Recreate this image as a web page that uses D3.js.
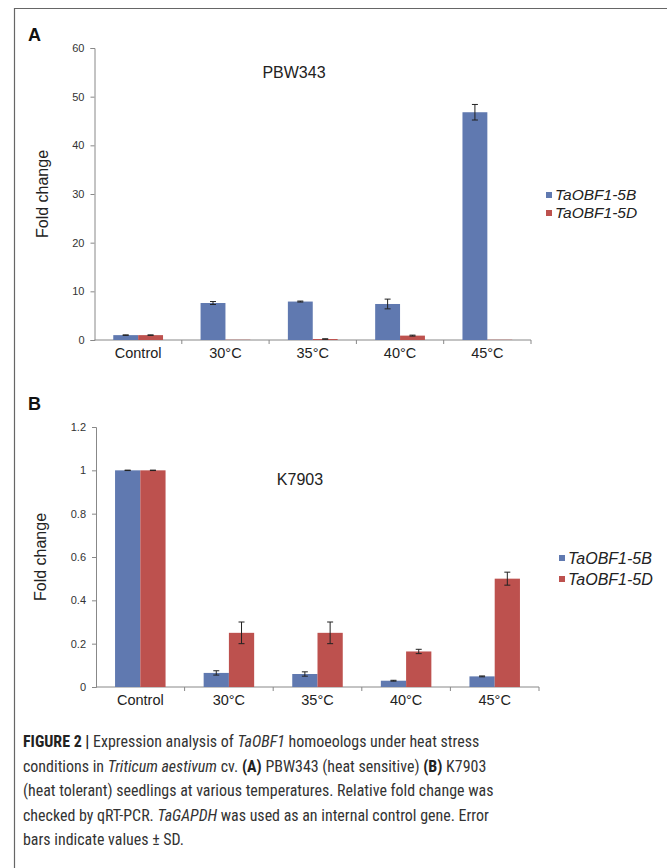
<!DOCTYPE html>
<html lang="en">
<head>
  <meta charset="UTF-8">
  <title>TaOBF1 fold change</title>
  <script src="https://d3js.org/d3.v7.min.js"></script>
  <style>
    body { margin: 0; background: #fff; }
    svg { font-family: "Liberation Sans", Arial, sans-serif; display: block; }
    .tick text { fill: #333; }
    .cap { fill: #333; font-family: "Liberation Sans Narrow", "Roboto Condensed", "Liberation Sans", sans-serif; font-size: 18px; }
  </style>
</head>
<body>
  <svg id="fig" width="667" height="868"></svg>

  <script>
    const categories = ["Control", "30°C", "35°C", "40°C", "45°C"];
    const seriesNames = ["TaOBF1-5B", "TaOBF1-5D"];
    const colors = ["#6079b0", "#bd514e"];

    // panel A - PBW343
    const a5B = [1.0, 7.6, 7.9, 7.4, 46.8];
    const a5BErr = [0.05, 0.3, 0.1, 1.0, 1.6];
    const a5D = [1.0, 0.05, 0.2, 0.9, 0.05];
    const a5DErr = [0.05, 0, 0.05, 0.1, 0];
    const aTicks = [0, 10, 20, 30, 40, 50, 60];

    // panel B - K7903
    const b5B = [1.0, 0.065, 0.06, 0.029, 0.049];
    const b5BErr = [0.001, 0.01, 0.01, 0.002, 0.002];
    const b5D = [1.0, 0.25, 0.25, 0.164, 0.50];
    const b5DErr = [0.001, 0.05, 0.05, 0.01, 0.03];
    const bTicks = [0, 0.2, 0.4, 0.6, 0.8, 1, 1.2];

    const svg = d3.select("#fig");

    // frame
    svg.append("path")
      .attr("d", "M14.5,868 V8.5 H667")
      .attr("fill", "none").attr("stroke", "#666").attr("stroke-width", 1.2);

    function panel(opt) {
      const x = d3.scaleBand().domain(categories)
        .range([opt.x0, opt.x1]).paddingInner(0.43).paddingOuter(0.215);
      const xs = d3.scaleBand().domain(seriesNames).range([0, x.bandwidth()]);
      const y = d3.scaleLinear().domain([0, opt.max]).range([opt.y0, opt.y1]);
      const g = svg.append("g");

      // y axis
      const ya = g.append("g")
        .attr("transform", `translate(${opt.x0},0)`)
        .call(d3.axisLeft(y).tickValues(opt.ticks).tickSize(4).tickPadding(6).tickFormat(d3.format("~g")));
      ya.selectAll("path, line").attr("stroke", "#888");
      ya.selectAll("text").style("font-size", "11px");

      // x axis line + boundary ticks
      g.append("line")
        .attr("x1", opt.x0).attr("x2", opt.x1)
        .attr("y1", y(0)).attr("y2", y(0))
        .attr("stroke", "#888");
      const step = x.step();
      g.selectAll(".xt").data(d3.range(1, categories.length + 1)).join("line")
        .attr("x1", i => opt.x0 + i * step).attr("x2", i => opt.x0 + i * step)
        .attr("y1", y(0)).attr("y2", y(0) + 4)
        .attr("stroke", "#888");
      g.selectAll(".xl").data(categories).join("text")
        .attr("x", d => x(d) + x.bandwidth() / 2)
        .attr("y", y(0) + 18)
        .attr("text-anchor", "middle")
        .attr("fill", "#222")
        .style("font-size", "14.5px")
        .text(d => d);

      // bars + error bars
      opt.series.forEach((s, si) => {
        const rows = categories.map((c, i) => ({ c, v: s.vals[i], e: s.err[i] }));
        g.selectAll(".bar" + si).data(rows).join("rect")
          .attr("x", d => x(d.c) + xs(seriesNames[si]))
          .attr("width", xs.bandwidth())
          .attr("y", d => y(d.v))
          .attr("height", d => y(0) - y(d.v))
          .attr("fill", colors[si]);
        const eb = g.selectAll(".err" + si).data(rows.filter(d => d.e > 0)).join("g")
          .attr("stroke", "#222").attr("stroke-width", 1);
        const cx = d => x(d.c) + xs(seriesNames[si]) + xs.bandwidth() / 2;
        eb.append("line").attr("x1", cx).attr("x2", cx)
          .attr("y1", d => y(d.v + d.e)).attr("y2", d => y(d.v - d.e));
        eb.append("line").attr("x1", d => cx(d) - 3).attr("x2", d => cx(d) + 3)
          .attr("y1", d => y(d.v + d.e)).attr("y2", d => y(d.v + d.e));
        eb.append("line").attr("x1", d => cx(d) - 3).attr("x2", d => cx(d) + 3)
          .attr("y1", d => y(d.v - d.e)).attr("y2", d => y(d.v - d.e));
      });

      // panel letter, title, y label
      g.append("text").attr("x", 28).attr("y", opt.letterY)
        .style("font-size", "18px").style("font-weight", "bold").attr("fill", "#111")
        .text(opt.letter);
      g.append("text").attr("x", opt.titleX).attr("y", opt.titleY)
        .attr("text-anchor", "middle").style("font-size", "16px").attr("fill", "#222")
        .text(opt.title);
      g.append("text")
        .attr("transform", `translate(${opt.labX},${(opt.y0 + opt.y1) / 2}) rotate(-90)`)
        .attr("text-anchor", "middle").style("font-size", "16px").attr("fill", "#222")
        .text("Fold change");

      // legend
      const lg = g.append("g").attr("transform", `translate(${opt.legX},${opt.legY})`);
      seriesNames.forEach((n, i) => {
        lg.append("rect").attr("x", 0).attr("y", i * opt.legGap - 3).attr("width", 6).attr("height", 6)
          .attr("fill", colors[i]);
        lg.append("text").attr("x", 9).attr("y", i * opt.legGap).attr("dy", "0.35em")
          .style("font-size", opt.legSize).style("font-style", "italic").attr("fill", "#222")
          .text(n);
      });
    }

    panel({
      letter: "A", letterY: 41, title: "PBW343", titleX: 294, titleY: 78,
      x0: 94.5, x1: 531, y0: 340, y1: 48, max: 60, ticks: aTicks, labX: 48,
      series: [{ vals: a5B, err: a5BErr }, { vals: a5D, err: a5DErr }],
      legX: 546, legY: 195, legGap: 18, legSize: "15.5px"
    });

    panel({
      letter: "B", letterY: 410, title: "K7903", titleX: 300, titleY: 485,
      x0: 96, x1: 539, y0: 687, y1: 427, max: 1.2, ticks: bTicks, labX: 46,
      series: [{ vals: b5B, err: b5BErr }, { vals: b5D, err: b5DErr }],
      legX: 559, legY: 558, legGap: 21, legSize: "16px"
    });

    // caption
    const capLines = [
      [["FIGURE 2 | ", "b"], ["Expression analysis of ", ""], ["TaOBF1", "i"], [" homoeologs under heat stress", ""]],
      [["conditions in ", ""], ["Triticum aestivum", "i"], [" cv. ", ""], ["(A)", "b"], [" PBW343 (heat sensitive) ", ""], ["(B)", "b"], [" K7903", ""]],
      [["(heat tolerant) seedlings at various temperatures. Relative fold change was", ""]],
      [["checked by qRT-PCR. ", ""], ["TaGAPDH", "i"], [" was used as an internal control gene. Error", ""]],
      [["bars indicate values \u00b1 SD.", ""]]
    ];
    const capWidths = [463, 451, 463, 479, 161];
    const capY = [747, 771.5, 796, 820.5, 845];
    const capTexts = capLines.map((parts, li) => {
      const t = svg.append("text").attr("class", "cap").attr("x", 23).attr("y", capY[li]);
      parts.forEach(([txt, st]) => {
        const sp = t.append("tspan").text(txt);
        if (st === "b") sp.style("font-weight", "bold").attr("fill", "#222");
        if (st === "i") sp.style("font-style", "italic");
      });
      return t;
    });
    // pick one font size so the full lines fit the reference widths
    const ratios = capTexts.slice(0, 4).map((t, i) => capWidths[i] / t.node().getComputedTextLength());
    const capSize = 18 * d3.mean(ratios);
    capTexts.forEach(t => t.style("font-size", capSize + "px"));
  </script>
</body>
</html>
